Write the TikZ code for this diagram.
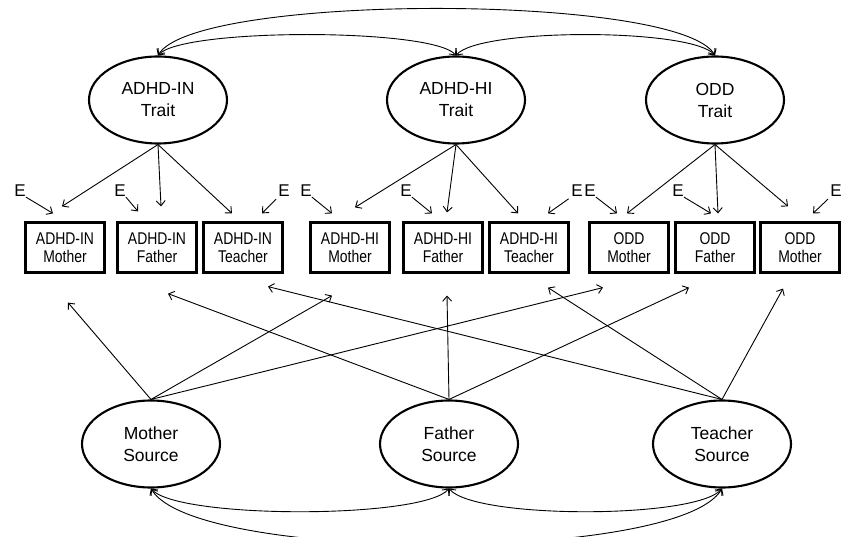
\documentclass[tikz,border=0pt]{standalone}
\usepackage{fontspec}
\setmainfont{Liberation Sans}
\newfontfamily\narrowfont{Liberation Sans}[FakeStretch=0.82]
\usetikzlibrary{shapes.geometric}
\usetikzlibrary{arrows.meta}
\tikzset{>={Straight Barb[length=5pt,width=9pt]}}
\tikzstyle{latent}=[ellipse,draw,line width=2.1pt,minimum width=138pt,minimum height=87pt,inner sep=0pt,align=center,font=\fontsize{17.5}{22}\selectfont]
\tikzstyle{observed}=[rectangle,draw,line width=2.2pt,minimum width=79pt,minimum height=50pt,inner sep=0pt,align=center,font=\narrowfont\fontsize{17}{18}\selectfont]
\tikzstyle{err}=[inner sep=0pt,font=\fontsize{17}{17}\selectfont]
\tikzstyle{load}=[->,line width=0.9pt]
\tikzstyle{cov}=[<->,line width=0.9pt]

\begin{document}
\begin{tikzpicture}[x=1pt,y=1pt]

  \useasboundingbox (0,0) rectangle (843,-537);

  % traits
  \node[latent] (trIN) at (158,-100) {ADHD-IN\\Trait};
  \node[latent] (trHI) at (456,-100) {ADHD-HI\\Trait};
  \node[latent] (trODD) at (715,-100) {ODD\\Trait};

  % sources
  \node[latent] (srcM) at (151,-444) {Mother\\Source};
  \node[latent] (srcF) at (449,-444) {Father\\Source};
  \node[latent] (srcT) at (722,-444) {Teacher\\Source};

  % indicators
  \node[observed] (mIN) at (65,-247.5) {ADHD-IN\\Mother};
  \node[observed] (fIN) at (157,-247.5) {ADHD-IN\\Father};
  \node[observed] (tIN) at (243,-247.5) {ADHD-IN\\Teacher};
  \node[observed] (mHI) at (350,-247.5) {ADHD-HI\\Mother};
  \node[observed] (fHI) at (443,-247.5) {ADHD-HI\\Father};
  \node[observed] (tHI) at (529,-247.5) {ADHD-HI\\Teacher};
  \node[observed] (mODD) at (629,-247.5) {ODD\\Mother};
  \node[observed] (fODD) at (715,-247.5) {ODD\\Father};
  \node[observed] (tODD) at (800,-247.5) {ODD\\Mother};

  % errors
  \node[err] (e1) at (20,-191) {E};
  \node[err] (e2) at (120,-191) {E};
  \node[err] (e3) at (284,-191) {E};
  \node[err] (e4) at (306,-191) {E};
  \node[err] (e5) at (406,-191) {E};
  \node[err] (e6) at (577,-191) {E};
  \node[err] (e7) at (590,-191) {E};
  \node[err] (e8) at (678,-191) {E};
  \node[err] (e9) at (836,-191) {E};

  % trait loadings
  \draw[load] (trIN.south) -- ([shift={(-3,15)}]mIN.north);
  \draw[load] (trIN.south) -- ([shift={(4,15)}]fIN.north);
  \draw[load] (trIN.south) -- ([shift={(-11,8)}]tIN.north);
  \draw[load] (trHI.south) -- ([shift={(5,14)}]mHI.north);
  \draw[load] (trHI.south) -- ([shift={(4,9)}]fHI.north);
  \draw[load] (trHI.south) -- ([shift={(-11,8)}]tHI.north);
  \draw[load] (trODD.south) -- ([shift={(-2,8)}]mODD.north);
  \draw[load] (trODD.south) -- ([shift={(3,8)}]fODD.north);
  \draw[load] (trODD.south) -- ([shift={(-12,15)}]tODD.north);

  % error paths
  \draw[load] (e1.south east) -- ([shift={(-12,8)}]mIN.north);
  \draw[load] (e2.south east) -- ([shift={(-19,10)}]fIN.north);
  \draw[load,shorten <=3pt] (e3.south west) -- ([shift={(19,8)}]tIN.north);
  \draw[load] (e4.south east) -- ([shift={(-18,8)}]mHI.north);
  \draw[load] (e5.south east) -- ([shift={(-11,8)}]fHI.north);
  \draw[load,shorten <=3pt] (e6.south west) -- ([shift={(19,8)}]tHI.north);
  \draw[load] (e7.south east) -- ([shift={(-12,8)}]mODD.north);
  \draw[load] (e8.south east) -- ([shift={(-4,8)}]fODD.north);
  \draw[load,shorten <=3pt] (e9.south west) -- ([shift={(13,8)}]tODD.north);

  % source loadings
  \draw[load] (srcM.north) -- ([shift={(3,-29)}]mIN.south);
  \draw[load] (srcM.north) -- ([shift={(-18,-22)}]mHI.south);
  \draw[load] (srcM.north) -- ([shift={(-26,-14)}]mODD.south);
  \draw[load] (srcF.north) -- ([shift={(11,-20)}]fIN.south);
  \draw[load] (srcF.north) -- ([shift={(4,-22)}]fHI.south);
  \draw[load] (srcF.north) -- ([shift={(-26,-14)}]fODD.south);
  \draw[load] (srcT.north) -- ([shift={(25,-13)}]tIN.south);
  \draw[load] (srcT.north) -- ([shift={(19,-14)}]tHI.south);
  \draw[load] (srcT.north) -- ([shift={(-17,-15)}]tODD.south);

  % correlations
  \draw[cov] (trIN.north) to[out=50,in=130,distance=36pt] (trHI.north);
  \draw[cov] (trHI.north) to[out=50,in=130,distance=36pt] (trODD.north);
  \draw[cov] (trIN.north) to[out=60,in=120,distance=72pt] (trODD.north);
  \draw[cov] (srcM.south) to[out=-50,in=-130,distance=40pt] (srcF.south);
  \draw[cov] (srcF.south) to[out=-50,in=-130,distance=40pt] (srcT.south);
  \draw[cov] (srcM.south) to[out=-60,in=-120,distance=86pt] (srcT.south);

\end{tikzpicture}
\end{document}
